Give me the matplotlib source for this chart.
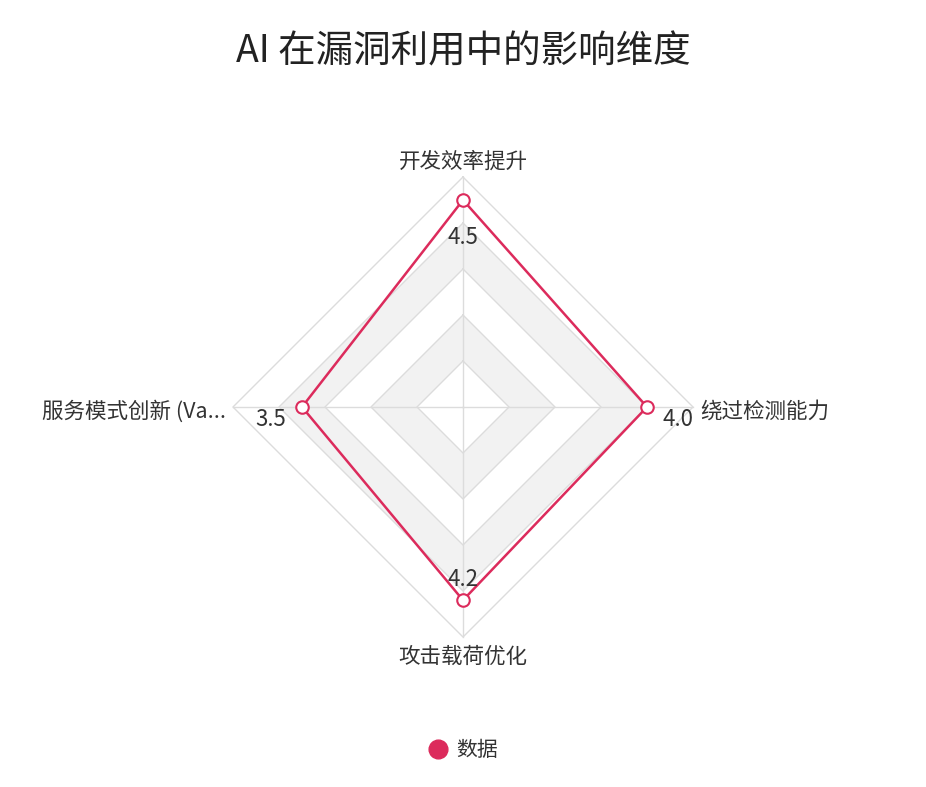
import numpy as np
import matplotlib.pyplot as plt
from matplotlib.lines import Line2D

plt.rcParams['font.family'] = ['Noto Sans CJK SC', 'DejaVu Sans']

# data
categories = ["开发效率提升", "绕过检测能力", "攻击载荷优化", "服务模式创新 (Va..."]
values = [4.5, 4.0, 4.2, 3.5]
max_value = 5
ring_levels = [1, 2, 3, 4, 5]

line_color = "#dc2b5c"
grid_color = "#dcdcdc"
band_color = "#f2f2f2"

fig = plt.figure(figsize=(9.26, 7.87), dpi=100)
ax = fig.add_axes([0, 0, 1, 1])
ax.set_xlim(-463, 463)
ax.set_ylim(-380, 407)
ax.axis("off")

radius = 230  # px for max_value
n = len(categories)
angles = np.arange(n) * 2 * np.pi / n  # clockwise from top


def to_xy(r_val, ang):
    r = r_val / max_value * radius
    return r * np.sin(ang), r * np.cos(ang)


# filled bands (alternate)
for lvl in reversed(ring_levels):
    xs, ys = to_xy(lvl, angles)
    face = band_color if lvl in (2, 4) else "white"
    ax.fill(xs, ys, facecolor=face, edgecolor="none", zorder=1)

# ring lines
for lvl in ring_levels:
    xs, ys = to_xy(lvl, np.append(angles, angles[0]))
    ax.plot(xs, ys, color=grid_color, lw=1, zorder=2)

# spokes
for a in angles:
    x1, y1 = to_xy(max_value, a)
    ax.plot([0, x1], [0, y1], color=grid_color, lw=1, zorder=2)

# data line
vx, vy = to_xy(np.array(values), angles)
ax.plot(np.append(vx, vx[0]), np.append(vy, vy[0]), color=line_color, lw=1.8, zorder=3)
ax.plot(vx, vy, "o", ms=9, mfc="white", mec=line_color, mew=1.5, zorder=4)

# value labels
label_offsets = [(0, -37), (31, -12), (0, 21), (-31, -12)]
for i in range(n):
    ax.annotate(f"{values[i]:.1f}", (vx[i], vy[i]), xytext=label_offsets[i],
                textcoords="offset pixels", ha="center", va="center",
                fontsize=16, color="#333333", zorder=5)

# category labels
cat_pos = [(0, 245, "center"), (237, -5, "left"), (0, -250, "center"), (-237, -5, "right")]
for i in range(n):
    px, py, ha = cat_pos[i]
    ax.text(px, py, categories[i], ha=ha, va="center", fontsize=15.5, color="#333333")

# title
fig.text(0.5, 0.934, "AI 在漏洞利用中的影响维度", ha="center", va="center",
         fontsize=27, color="#222222")

# legend
handle = Line2D([], [], marker="o", ls="none", ms=13.5, mfc=line_color, mec=line_color)
fig.legend([handle], ["数据"], loc="center", bbox_to_anchor=(0.5, 0.047),
           frameon=False, fontsize=15, handlelength=1.0, handletextpad=0.4,
           labelcolor="#333333")

plt.savefig("out.png", dpi=100)
